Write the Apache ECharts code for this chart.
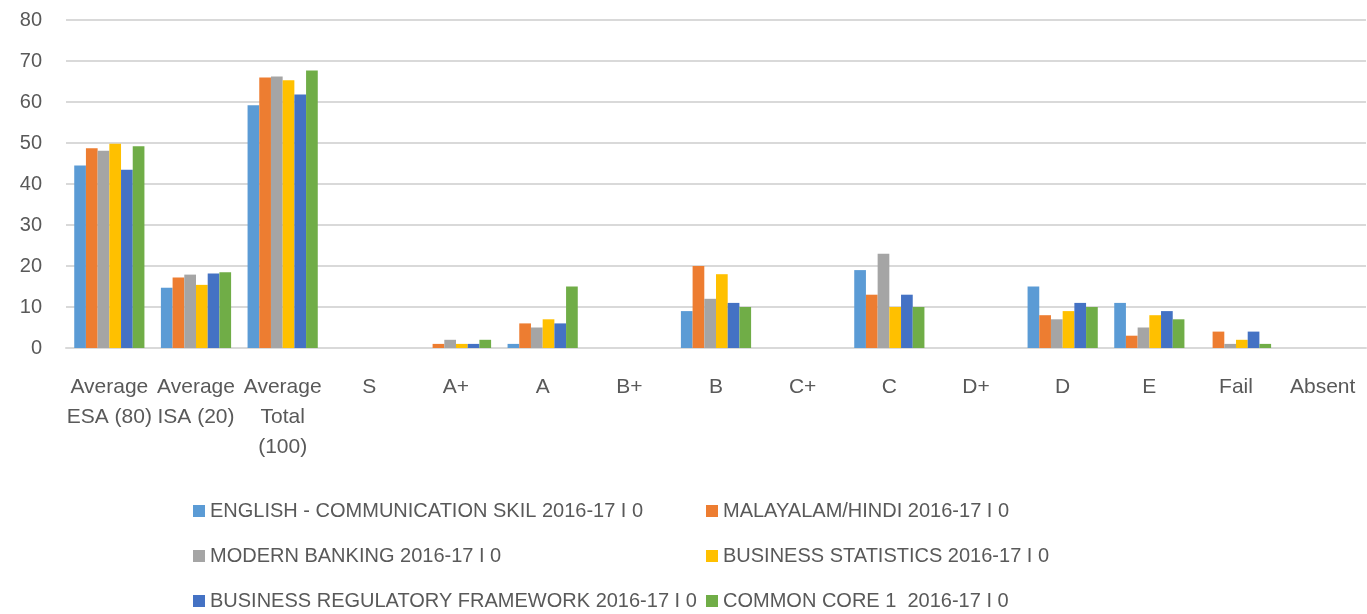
<!DOCTYPE html>
<html>
<head>
<meta charset="utf-8">
<script src="https://cdn.jsdelivr.net/npm/echarts@6/dist/echarts.min.js"></script>
<style>
  html, body { margin: 0; padding: 0; background: #fff; }
  #chart { width: 1367px; height: 614px; }
</style>
</head>
<body>
<div id="chart"></div>
<script>
// categories on the x axis
var categories = ['Average\nESA (80)', 'Average\nISA (20)', 'Average\nTotal\n(100)', 'S', 'A+', 'A', 'B+', 'B', 'C+', 'C', 'D+', 'D', 'E', 'Fail', 'Absent'];

var seriesNames = [
  'ENGLISH - COMMUNICATION SKIL 2016-17 I 0',
  'MALAYALAM/HINDI 2016-17 I 0',
  'MODERN BANKING 2016-17 I 0',
  'BUSINESS STATISTICS 2016-17 I 0',
  'BUSINESS REGULATORY FRAMEWORK 2016-17 I 0',
  'COMMON CORE 1  2016-17 I 0'
];

// values
var english    = [44.5, 14.7, 59.2, 0, 0, 1, 0, 9, 0, 19, 0, 15, 11, 0, 0];
var malayalam  = [48.7, 17.2, 66.0, 0, 1, 6, 0, 20, 0, 13, 0, 8, 3, 4, 0];
var banking    = [48.1, 17.9, 66.2, 0, 2, 5, 0, 12, 0, 23, 0, 7, 5, 1, 0];
var statistics = [49.8, 15.4, 65.3, 0, 1, 7, 0, 18, 0, 10, 0, 9, 8, 2, 0];
var regulatory = [43.5, 18.2, 61.8, 0, 1, 6, 0, 11, 0, 13, 0, 11, 9, 4, 0];
var commonCore = [49.2, 18.5, 67.7, 0, 2, 15, 0, 10, 0, 10, 0, 10, 7, 1, 0];

var colors = ['#5B9BD5', '#ED7D31', '#A5A5A5', '#FFC000', '#4472C4', '#70AD47'];
var allData = [english, malayalam, banking, statistics, regulatory, commonCore];

var font = '"Liberation Sans", Arial, sans-serif';

var myChart = echarts.init(document.getElementById('chart'));

var series = [];
for (var i = 0; i < allData.length; i++) {
  series.push({
    name: seriesNames[i],
    type: 'bar',
    data: allData[i],
    barGap: '0%',
    barCategoryGap: '19%',
    itemStyle: { color: colors[i] }
  });
}

// two legend columns, like the original
function legendColumn(left, names) {
  return {
    orient: 'vertical',
    left: left,
    top: 497,
    height: 140,
    padding: 0,
    itemWidth: 12,
    itemHeight: 12,
    itemGap: 17,
    icon: 'rect',
    textStyle: { color: '#595959', fontSize: 20, fontFamily: font, lineHeight: 28 },
    data: names
  };
}

var option = {
  animation: false,
  color: colors,
  grid: { left: 66, right: 1, top: 20, bottom: 266, containLabel: false },
  legend: [
    legendColumn(193, [seriesNames[0], seriesNames[2], seriesNames[4]]),
    legendColumn(706, [seriesNames[1], seriesNames[3], seriesNames[5]])
  ],
  xAxis: {
    type: 'category',
    data: categories,
    axisTick: { show: false },
    axisLine: { lineStyle: { color: '#d9d9d9', width: 2 } },
    axisLabel: {
      color: '#595959',
      fontSize: 21,
      fontFamily: font,
      lineHeight: 30,
      margin: 24,
      interval: 0
    }
  },
  yAxis: {
    type: 'value',
    min: 0,
    max: 80,
    interval: 10,
    axisLine: { show: false },
    axisTick: { show: false },
    splitLine: { lineStyle: { color: '#d9d9d9', width: 2 } },
    axisLabel: { color: '#595959', fontSize: 20, fontFamily: font, margin: 24 }
  },
  series: series
};

myChart.setOption(option);
</script>
</body>
</html>
